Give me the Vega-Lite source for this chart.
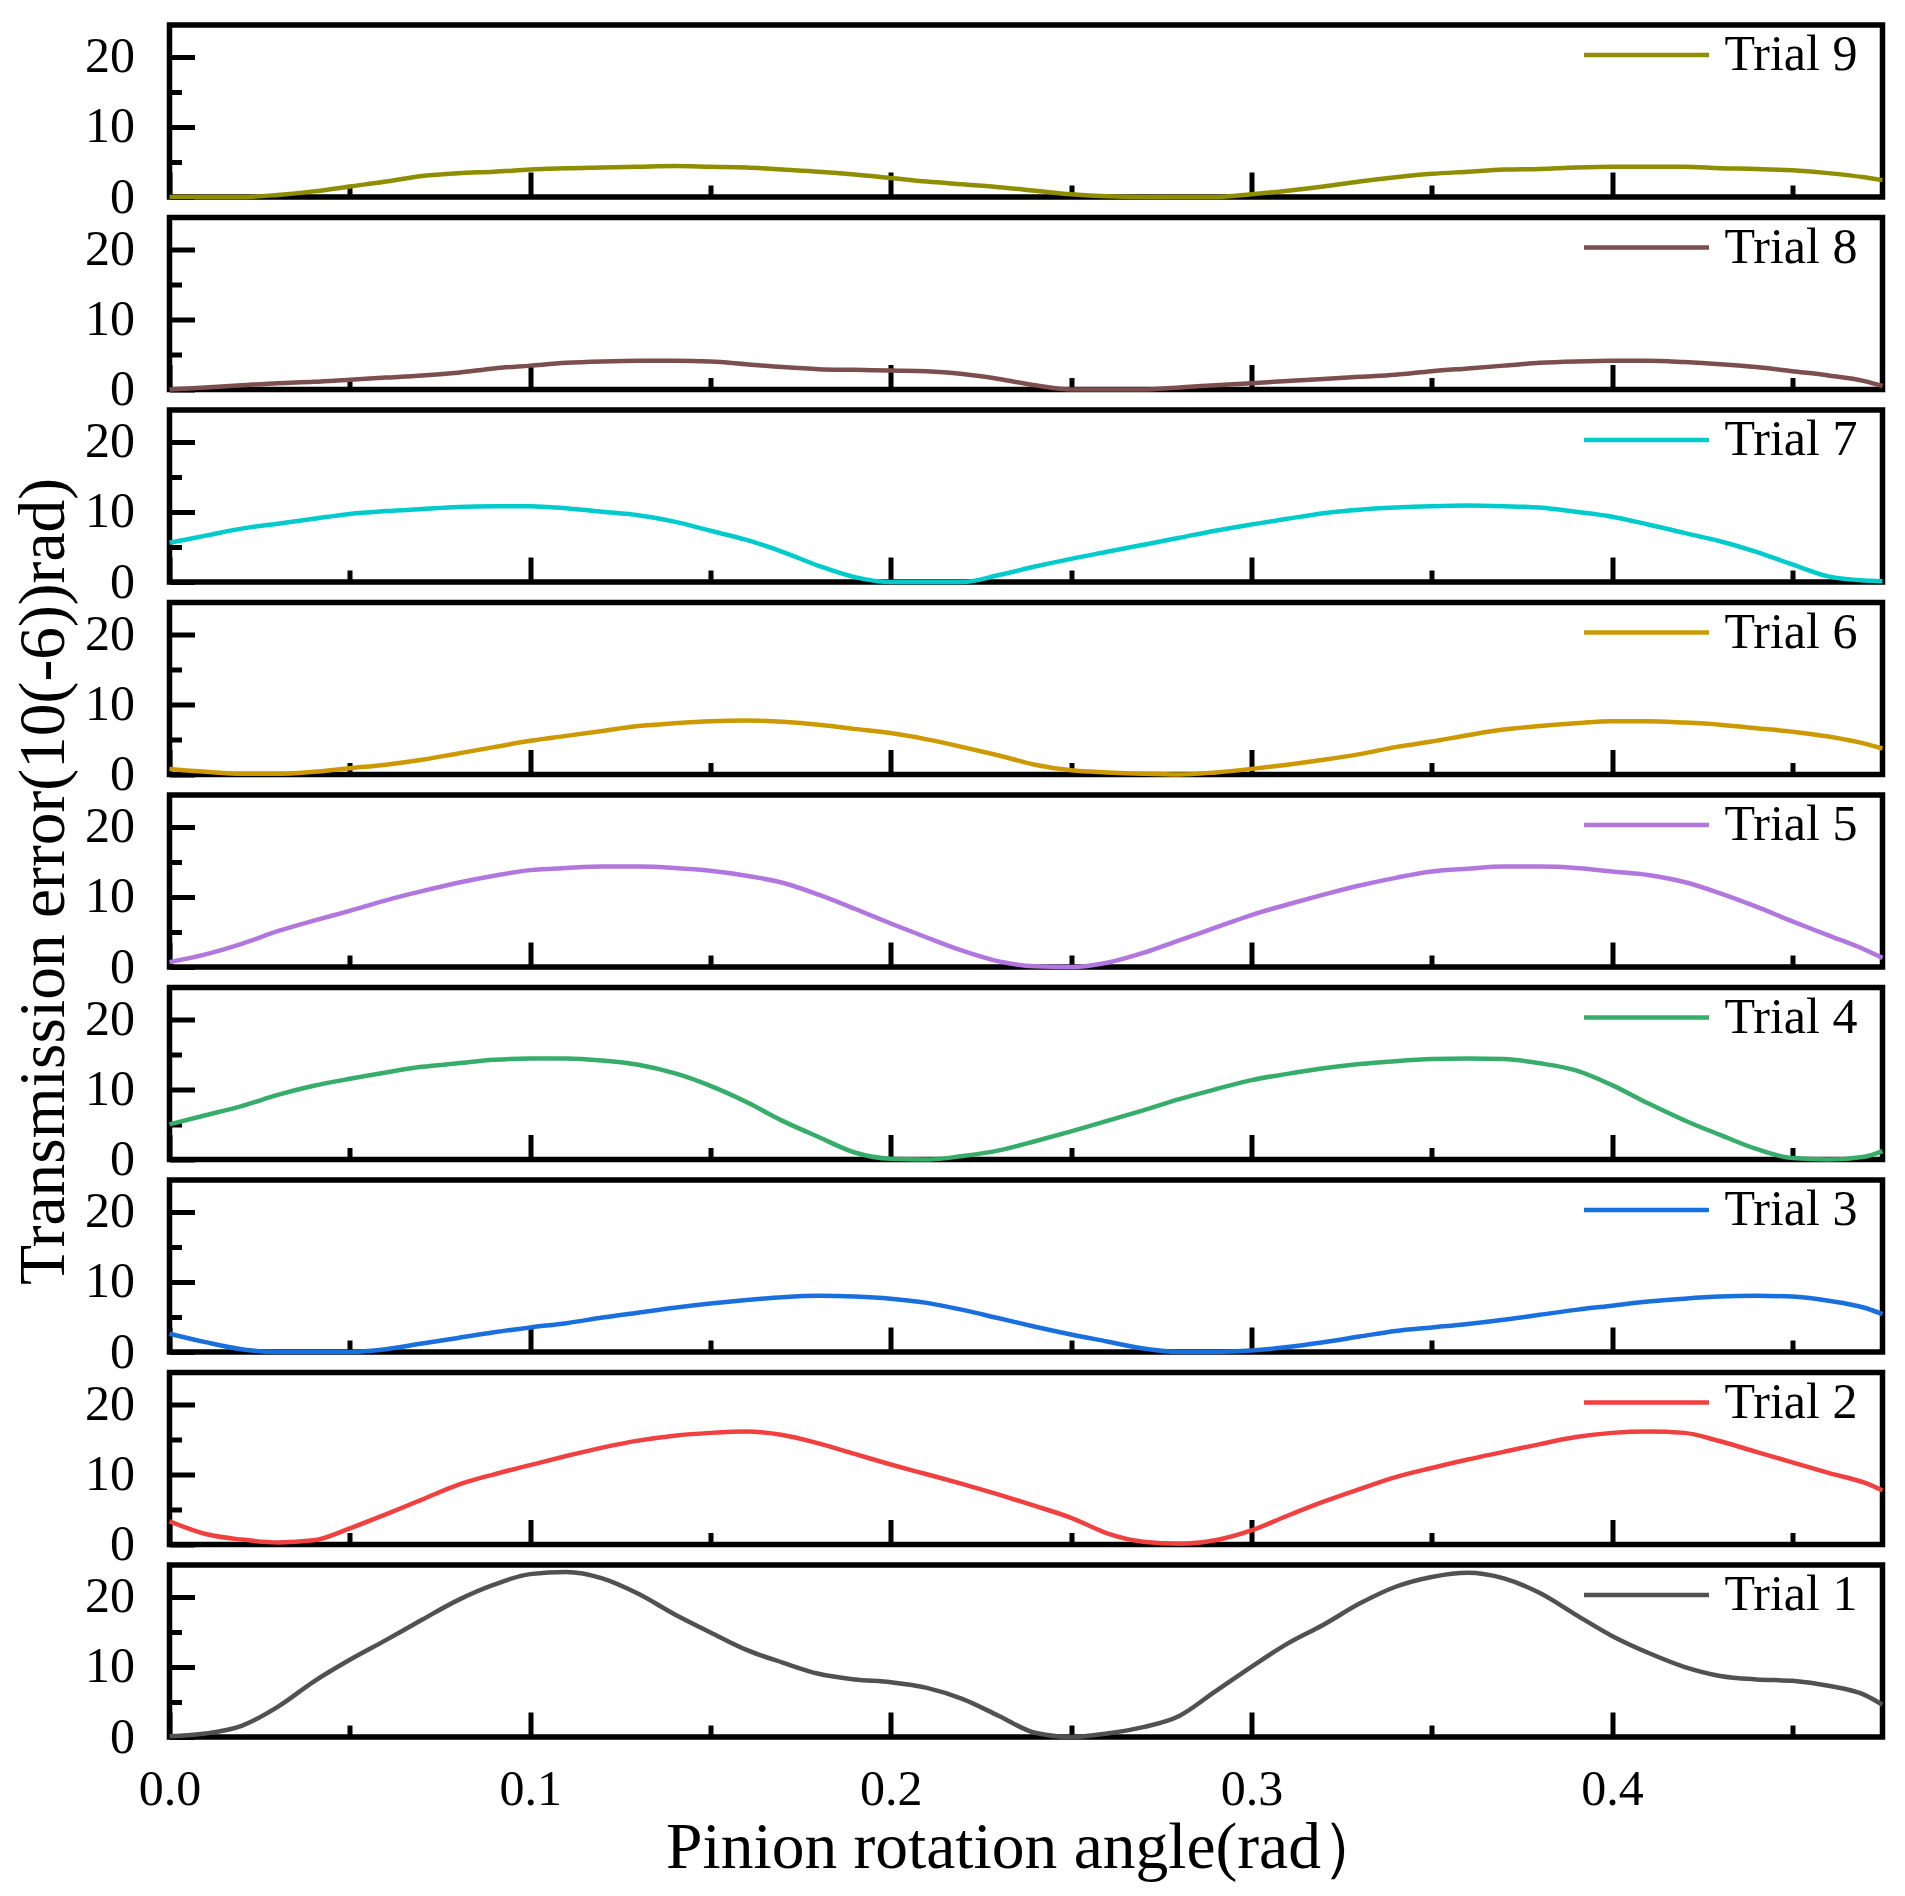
{
  "$schema": "https://vega.github.io/schema/vega-lite/v6.json",
  "background": "white",
  "padding": {"left": 8.5, "top": -13, "right": 20, "bottom": 20},
  "bounds": "flush",
  "spacing": 20.5,
  "resolve": {"scale": {"color": "independent"}},
  "datasets": {
    "t1": [{"x":0,"y":0.1},{"x":0.01,"y":0.5},{"x":0.02,"y":1.6},{"x":0.03,"y":4.3},{"x":0.04,"y":7.9},{"x":0.05,"y":11.0},{"x":0.06,"y":13.8},{"x":0.07,"y":16.7},{"x":0.08,"y":19.5},{"x":0.09,"y":21.7},{"x":0.1,"y":23.2},{"x":0.11,"y":23.5},{"x":0.12,"y":22.6},{"x":0.13,"y":20.4},{"x":0.14,"y":17.5},{"x":0.15,"y":14.9},{"x":0.16,"y":12.4},{"x":0.17,"y":10.6},{"x":0.18,"y":9.0},{"x":0.19,"y":8.2},{"x":0.2,"y":7.8},{"x":0.21,"y":7.0},{"x":0.22,"y":5.4},{"x":0.23,"y":3.0},{"x":0.24,"y":0.6},{"x":0.25,"y":0.0},{"x":0.26,"y":0.5},{"x":0.27,"y":1.4},{"x":0.28,"y":3.0},{"x":0.29,"y":6.5},{"x":0.3,"y":10.0},{"x":0.31,"y":13.3},{"x":0.32,"y":16.0},{"x":0.33,"y":19.0},{"x":0.34,"y":21.4},{"x":0.35,"y":22.8},{"x":0.36,"y":23.4},{"x":0.37,"y":22.6},{"x":0.38,"y":20.5},{"x":0.39,"y":17.4},{"x":0.4,"y":14.4},{"x":0.41,"y":12.0},{"x":0.42,"y":10.0},{"x":0.43,"y":8.7},{"x":0.44,"y":8.2},{"x":0.45,"y":8.0},{"x":0.46,"y":7.3},{"x":0.47,"y":6.0},{"x":0.475,"y":4.6}],
    "t2": [{"x":0,"y":3.3},{"x":0.01,"y":1.5},{"x":0.02,"y":0.7},{"x":0.03,"y":0.3},{"x":0.04,"y":0.6},{"x":0.05,"y":2.3},{"x":0.06,"y":4.3},{"x":0.07,"y":6.4},{"x":0.08,"y":8.5},{"x":0.09,"y":10.0},{"x":0.1,"y":11.3},{"x":0.11,"y":12.6},{"x":0.12,"y":13.8},{"x":0.13,"y":14.8},{"x":0.14,"y":15.5},{"x":0.15,"y":15.9},{"x":0.16,"y":16.1},{"x":0.17,"y":15.6},{"x":0.18,"y":14.4},{"x":0.19,"y":12.9},{"x":0.2,"y":11.4},{"x":0.21,"y":10.0},{"x":0.22,"y":8.6},{"x":0.23,"y":7.1},{"x":0.24,"y":5.5},{"x":0.25,"y":3.8},{"x":0.26,"y":1.6},{"x":0.27,"y":0.4},{"x":0.28,"y":0.1},{"x":0.29,"y":0.6},{"x":0.3,"y":2.0},{"x":0.31,"y":4.1},{"x":0.32,"y":6.1},{"x":0.33,"y":7.9},{"x":0.34,"y":9.6},{"x":0.35,"y":10.9},{"x":0.36,"y":12.1},{"x":0.37,"y":13.2},{"x":0.38,"y":14.3},{"x":0.39,"y":15.3},{"x":0.4,"y":15.9},{"x":0.41,"y":16.1},{"x":0.42,"y":15.9},{"x":0.43,"y":14.7},{"x":0.44,"y":13.2},{"x":0.45,"y":11.7},{"x":0.46,"y":10.2},{"x":0.47,"y":8.8},{"x":0.475,"y":7.7}],
    "t3": [{"x":0,"y":2.6},{"x":0.01,"y":1.4},{"x":0.02,"y":0.4},{"x":0.03,"y":0.0},{"x":0.04,"y":0.0},{"x":0.05,"y":0.0},{"x":0.06,"y":0.4},{"x":0.07,"y":1.2},{"x":0.08,"y":2.0},{"x":0.09,"y":2.8},{"x":0.1,"y":3.5},{"x":0.11,"y":4.1},{"x":0.12,"y":4.9},{"x":0.13,"y":5.6},{"x":0.14,"y":6.3},{"x":0.15,"y":6.9},{"x":0.16,"y":7.4},{"x":0.17,"y":7.8},{"x":0.18,"y":8.0},{"x":0.19,"y":7.9},{"x":0.2,"y":7.6},{"x":0.21,"y":7.0},{"x":0.22,"y":6.0},{"x":0.23,"y":4.8},{"x":0.24,"y":3.6},{"x":0.25,"y":2.5},{"x":0.26,"y":1.5},{"x":0.27,"y":0.5},{"x":0.28,"y":0.0},{"x":0.29,"y":0.0},{"x":0.3,"y":0.2},{"x":0.31,"y":0.7},{"x":0.32,"y":1.4},{"x":0.33,"y":2.2},{"x":0.34,"y":3.0},{"x":0.35,"y":3.5},{"x":0.36,"y":4.0},{"x":0.37,"y":4.6},{"x":0.38,"y":5.3},{"x":0.39,"y":6.0},{"x":0.4,"y":6.6},{"x":0.41,"y":7.2},{"x":0.42,"y":7.6},{"x":0.43,"y":7.9},{"x":0.44,"y":8.0},{"x":0.45,"y":7.9},{"x":0.46,"y":7.3},{"x":0.47,"y":6.3},{"x":0.475,"y":5.4}],
    "t4": [{"x":0,"y":5.0},{"x":0.01,"y":6.3},{"x":0.02,"y":7.6},{"x":0.03,"y":9.2},{"x":0.04,"y":10.5},{"x":0.05,"y":11.5},{"x":0.06,"y":12.4},{"x":0.07,"y":13.2},{"x":0.08,"y":13.7},{"x":0.09,"y":14.2},{"x":0.1,"y":14.4},{"x":0.11,"y":14.4},{"x":0.12,"y":14.1},{"x":0.13,"y":13.5},{"x":0.14,"y":12.3},{"x":0.15,"y":10.5},{"x":0.16,"y":8.2},{"x":0.17,"y":5.5},{"x":0.18,"y":3.2},{"x":0.19,"y":1.0},{"x":0.2,"y":0.1},{"x":0.21,"y":0.0},{"x":0.22,"y":0.5},{"x":0.23,"y":1.3},{"x":0.24,"y":2.6},{"x":0.25,"y":4.0},{"x":0.26,"y":5.5},{"x":0.27,"y":7.0},{"x":0.28,"y":8.6},{"x":0.29,"y":10.0},{"x":0.3,"y":11.3},{"x":0.31,"y":12.2},{"x":0.32,"y":13.0},{"x":0.33,"y":13.6},{"x":0.34,"y":14.0},{"x":0.35,"y":14.3},{"x":0.36,"y":14.4},{"x":0.37,"y":14.3},{"x":0.38,"y":13.7},{"x":0.39,"y":12.7},{"x":0.4,"y":10.6},{"x":0.41,"y":8.0},{"x":0.42,"y":5.6},{"x":0.43,"y":3.5},{"x":0.44,"y":1.5},{"x":0.45,"y":0.2},{"x":0.46,"y":0.0},{"x":0.47,"y":0.4},{"x":0.475,"y":1.2}],
    "t5": [{"x":0,"y":0.7},{"x":0.01,"y":1.8},{"x":0.02,"y":3.3},{"x":0.03,"y":5.1},{"x":0.04,"y":6.6},{"x":0.05,"y":8.0},{"x":0.06,"y":9.5},{"x":0.07,"y":10.8},{"x":0.08,"y":12.0},{"x":0.09,"y":13.0},{"x":0.1,"y":13.8},{"x":0.11,"y":14.1},{"x":0.12,"y":14.3},{"x":0.13,"y":14.3},{"x":0.14,"y":14.1},{"x":0.15,"y":13.7},{"x":0.16,"y":13.0},{"x":0.17,"y":12.0},{"x":0.18,"y":10.3},{"x":0.19,"y":8.3},{"x":0.2,"y":6.2},{"x":0.21,"y":4.2},{"x":0.22,"y":2.3},{"x":0.23,"y":0.8},{"x":0.24,"y":0.1},{"x":0.25,"y":0.0},{"x":0.26,"y":0.6},{"x":0.27,"y":2.0},{"x":0.28,"y":3.8},{"x":0.29,"y":5.6},{"x":0.3,"y":7.4},{"x":0.31,"y":8.9},{"x":0.32,"y":10.3},{"x":0.33,"y":11.6},{"x":0.34,"y":12.7},{"x":0.35,"y":13.6},{"x":0.36,"y":14.0},{"x":0.37,"y":14.3},{"x":0.38,"y":14.3},{"x":0.39,"y":14.1},{"x":0.4,"y":13.6},{"x":0.41,"y":13.1},{"x":0.42,"y":12.1},{"x":0.43,"y":10.5},{"x":0.44,"y":8.6},{"x":0.45,"y":6.5},{"x":0.46,"y":4.5},{"x":0.47,"y":2.5},{"x":0.475,"y":1.3}],
    "t6": [{"x":0,"y":0.8},{"x":0.01,"y":0.4},{"x":0.02,"y":0.1},{"x":0.03,"y":0.1},{"x":0.04,"y":0.4},{"x":0.05,"y":0.9},{"x":0.06,"y":1.4},{"x":0.07,"y":2.1},{"x":0.08,"y":3.0},{"x":0.09,"y":3.9},{"x":0.1,"y":4.8},{"x":0.11,"y":5.5},{"x":0.12,"y":6.2},{"x":0.13,"y":6.9},{"x":0.14,"y":7.3},{"x":0.15,"y":7.6},{"x":0.16,"y":7.7},{"x":0.17,"y":7.5},{"x":0.18,"y":7.1},{"x":0.19,"y":6.5},{"x":0.2,"y":5.9},{"x":0.21,"y":5.0},{"x":0.22,"y":3.9},{"x":0.23,"y":2.7},{"x":0.24,"y":1.4},{"x":0.25,"y":0.6},{"x":0.26,"y":0.3},{"x":0.27,"y":0.1},{"x":0.28,"y":0.0},{"x":0.29,"y":0.3},{"x":0.3,"y":0.8},{"x":0.31,"y":1.4},{"x":0.32,"y":2.1},{"x":0.33,"y":2.9},{"x":0.34,"y":3.9},{"x":0.35,"y":4.7},{"x":0.36,"y":5.6},{"x":0.37,"y":6.4},{"x":0.38,"y":6.9},{"x":0.39,"y":7.3},{"x":0.4,"y":7.6},{"x":0.41,"y":7.6},{"x":0.42,"y":7.4},{"x":0.43,"y":7.1},{"x":0.44,"y":6.6},{"x":0.45,"y":6.1},{"x":0.46,"y":5.4},{"x":0.47,"y":4.4},{"x":0.475,"y":3.7}],
    "t7": [{"x":0,"y":5.6},{"x":0.01,"y":6.6},{"x":0.02,"y":7.6},{"x":0.03,"y":8.3},{"x":0.04,"y":9.0},{"x":0.05,"y":9.7},{"x":0.06,"y":10.1},{"x":0.07,"y":10.4},{"x":0.08,"y":10.7},{"x":0.09,"y":10.8},{"x":0.1,"y":10.8},{"x":0.11,"y":10.5},{"x":0.12,"y":10.0},{"x":0.13,"y":9.5},{"x":0.14,"y":8.6},{"x":0.15,"y":7.3},{"x":0.16,"y":6.0},{"x":0.17,"y":4.3},{"x":0.18,"y":2.3},{"x":0.19,"y":0.7},{"x":0.2,"y":0.0},{"x":0.21,"y":0.0},{"x":0.22,"y":0.0},{"x":0.23,"y":1.0},{"x":0.24,"y":2.2},{"x":0.25,"y":3.3},{"x":0.26,"y":4.3},{"x":0.27,"y":5.3},{"x":0.28,"y":6.3},{"x":0.29,"y":7.3},{"x":0.3,"y":8.2},{"x":0.31,"y":9.0},{"x":0.32,"y":9.8},{"x":0.33,"y":10.3},{"x":0.34,"y":10.6},{"x":0.35,"y":10.8},{"x":0.36,"y":10.9},{"x":0.37,"y":10.8},{"x":0.38,"y":10.6},{"x":0.39,"y":10.0},{"x":0.4,"y":9.3},{"x":0.41,"y":8.2},{"x":0.42,"y":7.0},{"x":0.43,"y":5.8},{"x":0.44,"y":4.3},{"x":0.45,"y":2.5},{"x":0.46,"y":0.8},{"x":0.47,"y":0.2},{"x":0.475,"y":0.1}],
    "t8": [{"x":0,"y":0.0},{"x":0.01,"y":0.3},{"x":0.02,"y":0.6},{"x":0.03,"y":0.9},{"x":0.04,"y":1.1},{"x":0.05,"y":1.4},{"x":0.06,"y":1.7},{"x":0.07,"y":2.0},{"x":0.08,"y":2.4},{"x":0.09,"y":3.0},{"x":0.1,"y":3.4},{"x":0.11,"y":3.8},{"x":0.12,"y":4.0},{"x":0.13,"y":4.1},{"x":0.14,"y":4.1},{"x":0.15,"y":4.0},{"x":0.16,"y":3.6},{"x":0.17,"y":3.2},{"x":0.18,"y":2.9},{"x":0.19,"y":2.8},{"x":0.2,"y":2.7},{"x":0.21,"y":2.6},{"x":0.22,"y":2.2},{"x":0.23,"y":1.5},{"x":0.24,"y":0.6},{"x":0.25,"y":0.0},{"x":0.26,"y":0.0},{"x":0.27,"y":0.0},{"x":0.28,"y":0.3},{"x":0.29,"y":0.6},{"x":0.3,"y":0.9},{"x":0.31,"y":1.2},{"x":0.32,"y":1.5},{"x":0.33,"y":1.8},{"x":0.34,"y":2.1},{"x":0.35,"y":2.6},{"x":0.36,"y":3.0},{"x":0.37,"y":3.4},{"x":0.38,"y":3.8},{"x":0.39,"y":4.0},{"x":0.4,"y":4.1},{"x":0.41,"y":4.1},{"x":0.42,"y":3.9},{"x":0.43,"y":3.6},{"x":0.44,"y":3.2},{"x":0.45,"y":2.6},{"x":0.46,"y":2.0},{"x":0.47,"y":1.2},{"x":0.475,"y":0.5}],
    "t9": [{"x":0,"y":0.0},{"x":0.01,"y":0.0},{"x":0.02,"y":0.0},{"x":0.03,"y":0.3},{"x":0.04,"y":0.8},{"x":0.05,"y":1.5},{"x":0.06,"y":2.2},{"x":0.07,"y":3.0},{"x":0.08,"y":3.4},{"x":0.09,"y":3.6},{"x":0.1,"y":3.9},{"x":0.11,"y":4.1},{"x":0.12,"y":4.2},{"x":0.13,"y":4.3},{"x":0.14,"y":4.4},{"x":0.15,"y":4.3},{"x":0.16,"y":4.2},{"x":0.17,"y":3.9},{"x":0.18,"y":3.6},{"x":0.19,"y":3.2},{"x":0.2,"y":2.7},{"x":0.21,"y":2.2},{"x":0.22,"y":1.8},{"x":0.23,"y":1.4},{"x":0.24,"y":0.9},{"x":0.25,"y":0.4},{"x":0.26,"y":0.1},{"x":0.27,"y":0.0},{"x":0.28,"y":0.0},{"x":0.29,"y":0.0},{"x":0.3,"y":0.4},{"x":0.31,"y":0.9},{"x":0.32,"y":1.5},{"x":0.33,"y":2.2},{"x":0.34,"y":2.8},{"x":0.35,"y":3.3},{"x":0.36,"y":3.6},{"x":0.37,"y":3.9},{"x":0.38,"y":4.0},{"x":0.39,"y":4.2},{"x":0.4,"y":4.3},{"x":0.41,"y":4.3},{"x":0.42,"y":4.3},{"x":0.43,"y":4.1},{"x":0.44,"y":4.0},{"x":0.45,"y":3.8},{"x":0.46,"y":3.4},{"x":0.47,"y":2.8},{"x":0.475,"y":2.4}]
  },
  "vconcat": [
    {
      "data": {"name": "t9"}, "width": 1713, "height": 172,
      "mark": {"type": "line", "strokeWidth": 4.5, "interpolate": "monotone"},
      "encoding": {
        "x": {"field": "x", "type": "quantitative", "scale": {"domain": [0, 0.475], "nice": false, "zero": false},
              "axis": {"values": [0,0.05,0.1,0.15,0.2,0.25,0.3,0.35,0.4,0.45], "labels": false, "title": null,
                       "tickSize": {"condition": {"test": "round(datum.value*100) % 10 === 0", "value": -25}, "value": -12}}},
        "y": {"field": "y", "type": "quantitative", "scale": {"domain": [0, 24.5], "nice": false},
              "axis": {"values": [0,5,10,15,20], "title": null, "labelExpr": "datum.value % 10 === 0 ? datum.label : ''", "labelPadding": 60,
                       "tickSize": {"condition": {"test": "datum.value % 10 === 0", "value": -25}, "value": -12}}},
        "color": {"datum": "Trial 9", "type": "nominal", "scale": {"domain": ["Trial 9"], "range": ["#8E8E00"]},
                  "legend": {"title": null, "orient": "none", "legendX": 1412, "legendY": -35}}
      }
    },
    {
      "data": {"name": "t8"}, "width": 1713, "height": 172,
      "mark": {"type": "line", "strokeWidth": 4.5, "interpolate": "monotone"},
      "encoding": {
        "x": {"field": "x", "type": "quantitative", "scale": {"domain": [0, 0.475], "nice": false, "zero": false},
              "axis": {"values": [0,0.05,0.1,0.15,0.2,0.25,0.3,0.35,0.4,0.45], "labels": false, "title": null,
                       "tickSize": {"condition": {"test": "round(datum.value*100) % 10 === 0", "value": -25}, "value": -12}}},
        "y": {"field": "y", "type": "quantitative", "scale": {"domain": [0, 24.5], "nice": false},
              "axis": {"values": [0,5,10,15,20], "title": null, "labelExpr": "datum.value % 10 === 0 ? datum.label : ''", "labelPadding": 60,
                       "tickSize": {"condition": {"test": "datum.value % 10 === 0", "value": -25}, "value": -12}}},
        "color": {"datum": "Trial 8", "type": "nominal", "scale": {"domain": ["Trial 8"], "range": ["#7D4E4E"]},
                  "legend": {"title": null, "orient": "none", "legendX": 1412, "legendY": -35}}
      }
    },
    {
      "data": {"name": "t7"}, "width": 1713, "height": 172,
      "mark": {"type": "line", "strokeWidth": 4.5, "interpolate": "monotone"},
      "encoding": {
        "x": {"field": "x", "type": "quantitative", "scale": {"domain": [0, 0.475], "nice": false, "zero": false},
              "axis": {"values": [0,0.05,0.1,0.15,0.2,0.25,0.3,0.35,0.4,0.45], "labels": false, "title": null,
                       "tickSize": {"condition": {"test": "round(datum.value*100) % 10 === 0", "value": -25}, "value": -12}}},
        "y": {"field": "y", "type": "quantitative", "scale": {"domain": [0, 24.5], "nice": false},
              "axis": {"values": [0,5,10,15,20], "title": null, "labelExpr": "datum.value % 10 === 0 ? datum.label : ''", "labelPadding": 60,
                       "tickSize": {"condition": {"test": "datum.value % 10 === 0", "value": -25}, "value": -12}}},
        "color": {"datum": "Trial 7", "type": "nominal", "scale": {"domain": ["Trial 7"], "range": ["#00CBCC"]},
                  "legend": {"title": null, "orient": "none", "legendX": 1412, "legendY": -35}}
      }
    },
    {
      "data": {"name": "t6"}, "width": 1713, "height": 172,
      "mark": {"type": "line", "strokeWidth": 4.5, "interpolate": "monotone"},
      "encoding": {
        "x": {"field": "x", "type": "quantitative", "scale": {"domain": [0, 0.475], "nice": false, "zero": false},
              "axis": {"values": [0,0.05,0.1,0.15,0.2,0.25,0.3,0.35,0.4,0.45], "labels": false, "title": null,
                       "tickSize": {"condition": {"test": "round(datum.value*100) % 10 === 0", "value": -25}, "value": -12}}},
        "y": {"field": "y", "type": "quantitative", "scale": {"domain": [0, 24.5], "nice": false},
              "axis": {"values": [0,5,10,15,20], "title": null, "labelExpr": "datum.value % 10 === 0 ? datum.label : ''", "labelPadding": 60,
                       "tickSize": {"condition": {"test": "datum.value % 10 === 0", "value": -25}, "value": -12}}},
        "color": {"datum": "Trial 6", "type": "nominal", "scale": {"domain": ["Trial 6"], "range": ["#CC9900"]},
                  "legend": {"title": null, "orient": "none", "legendX": 1412, "legendY": -35}}
      }
    },
    {
      "data": {"name": "t5"}, "width": 1713, "height": 172,
      "mark": {"type": "line", "strokeWidth": 4.5, "interpolate": "monotone"},
      "encoding": {
        "x": {"field": "x", "type": "quantitative", "scale": {"domain": [0, 0.475], "nice": false, "zero": false},
              "axis": {"values": [0,0.05,0.1,0.15,0.2,0.25,0.3,0.35,0.4,0.45], "labels": false, "title": null,
                       "tickSize": {"condition": {"test": "round(datum.value*100) % 10 === 0", "value": -25}, "value": -12}}},
        "y": {"field": "y", "type": "quantitative", "scale": {"domain": [0, 24.5], "nice": false},
              "axis": {"values": [0,5,10,15,20], "title": "Transmission error(10(-6))rad)", "titlePadding": 7,
                       "labelExpr": "datum.value % 10 === 0 ? datum.label : ''", "labelPadding": 60,
                       "tickSize": {"condition": {"test": "datum.value % 10 === 0", "value": -25}, "value": -12}}},
        "color": {"datum": "Trial 5", "type": "nominal", "scale": {"domain": ["Trial 5"], "range": ["#B177DE"]},
                  "legend": {"title": null, "orient": "none", "legendX": 1412, "legendY": -35}}
      }
    },
    {
      "data": {"name": "t4"}, "width": 1713, "height": 172,
      "mark": {"type": "line", "strokeWidth": 4.5, "interpolate": "monotone"},
      "encoding": {
        "x": {"field": "x", "type": "quantitative", "scale": {"domain": [0, 0.475], "nice": false, "zero": false},
              "axis": {"values": [0,0.05,0.1,0.15,0.2,0.25,0.3,0.35,0.4,0.45], "labels": false, "title": null,
                       "tickSize": {"condition": {"test": "round(datum.value*100) % 10 === 0", "value": -25}, "value": -12}}},
        "y": {"field": "y", "type": "quantitative", "scale": {"domain": [0, 24.5], "nice": false},
              "axis": {"values": [0,5,10,15,20], "title": null, "labelExpr": "datum.value % 10 === 0 ? datum.label : ''", "labelPadding": 60,
                       "tickSize": {"condition": {"test": "datum.value % 10 === 0", "value": -25}, "value": -12}}},
        "color": {"datum": "Trial 4", "type": "nominal", "scale": {"domain": ["Trial 4"], "range": ["#37AD6B"]},
                  "legend": {"title": null, "orient": "none", "legendX": 1412, "legendY": -35}}
      }
    },
    {
      "data": {"name": "t3"}, "width": 1713, "height": 172,
      "mark": {"type": "line", "strokeWidth": 4.5, "interpolate": "monotone"},
      "encoding": {
        "x": {"field": "x", "type": "quantitative", "scale": {"domain": [0, 0.475], "nice": false, "zero": false},
              "axis": {"values": [0,0.05,0.1,0.15,0.2,0.25,0.3,0.35,0.4,0.45], "labels": false, "title": null,
                       "tickSize": {"condition": {"test": "round(datum.value*100) % 10 === 0", "value": -25}, "value": -12}}},
        "y": {"field": "y", "type": "quantitative", "scale": {"domain": [0, 24.5], "nice": false},
              "axis": {"values": [0,5,10,15,20], "title": null, "labelExpr": "datum.value % 10 === 0 ? datum.label : ''", "labelPadding": 60,
                       "tickSize": {"condition": {"test": "datum.value % 10 === 0", "value": -25}, "value": -12}}},
        "color": {"datum": "Trial 3", "type": "nominal", "scale": {"domain": ["Trial 3"], "range": ["#1A6FDF"]},
                  "legend": {"title": null, "orient": "none", "legendX": 1412, "legendY": -35}}
      }
    },
    {
      "data": {"name": "t2"}, "width": 1713, "height": 172,
      "mark": {"type": "line", "strokeWidth": 4.5, "interpolate": "monotone"},
      "encoding": {
        "x": {"field": "x", "type": "quantitative", "scale": {"domain": [0, 0.475], "nice": false, "zero": false},
              "axis": {"values": [0,0.05,0.1,0.15,0.2,0.25,0.3,0.35,0.4,0.45], "labels": false, "title": null,
                       "tickSize": {"condition": {"test": "round(datum.value*100) % 10 === 0", "value": -25}, "value": -12}}},
        "y": {"field": "y", "type": "quantitative", "scale": {"domain": [0, 24.5], "nice": false},
              "axis": {"values": [0,5,10,15,20], "title": null, "labelExpr": "datum.value % 10 === 0 ? datum.label : ''", "labelPadding": 60,
                       "tickSize": {"condition": {"test": "datum.value % 10 === 0", "value": -25}, "value": -12}}},
        "color": {"datum": "Trial 2", "type": "nominal", "scale": {"domain": ["Trial 2"], "range": ["#F14040"]},
                  "legend": {"title": null, "orient": "none", "legendX": 1412, "legendY": -35}}
      }
    },
    {
      "data": {"name": "t1"}, "width": 1713, "height": 172,
      "mark": {"type": "line", "strokeWidth": 4.5, "interpolate": "monotone"},
      "encoding": {
        "x": {"field": "x", "type": "quantitative", "scale": {"domain": [0, 0.475], "nice": false, "zero": false},
              "axis": {"values": [0,0.05,0.1,0.15,0.2,0.25,0.3,0.35,0.4,0.45], "format": ".1f",
                       "labelExpr": "round(datum.value*100) % 10 === 0 ? datum.label : ''", "labelPadding": 52,
                       "labelFlush": false, "labelOverlap": false,
                       "title": "Pinion rotation angle(rad）", "titlePadding": -12,
                       "tickSize": {"condition": {"test": "round(datum.value*100) % 10 === 0", "value": -25}, "value": -12}}},
        "y": {"field": "y", "type": "quantitative", "scale": {"domain": [0, 24.5], "nice": false},
              "axis": {"values": [0,5,10,15,20], "title": null, "labelExpr": "datum.value % 10 === 0 ? datum.label : ''", "labelPadding": 60,
                       "tickSize": {"condition": {"test": "datum.value % 10 === 0", "value": -25}, "value": -12}}},
        "color": {"datum": "Trial 1", "type": "nominal", "scale": {"domain": ["Trial 1"], "range": ["#515151"]},
                  "legend": {"title": null, "orient": "none", "legendX": 1412, "legendY": -35}}
      }
    }
  ],
  "config": {
    "font": "Liberation Serif",
    "view": {"stroke": "black", "strokeWidth": 5.5},
    "axis": {
      "domain": false, "grid": false,
      "tickColor": "black", "tickWidth": 5,
      "labelFont": "Liberation Serif", "labelFontSize": 50, "labelColor": "black",
      "titleFont": "Liberation Serif", "titleFontSize": 65.5, "titleFontWeight": "normal", "titleColor": "black"
    },
    "legend": {
      "padding": 0,
      "labelFont": "Liberation Serif", "labelFontSize": 50, "labelColor": "black",
      "symbolType": "stroke", "symbolSize": 15625, "symbolStrokeWidth": 4.5, "labelOffset": 13
    }
  }
}
